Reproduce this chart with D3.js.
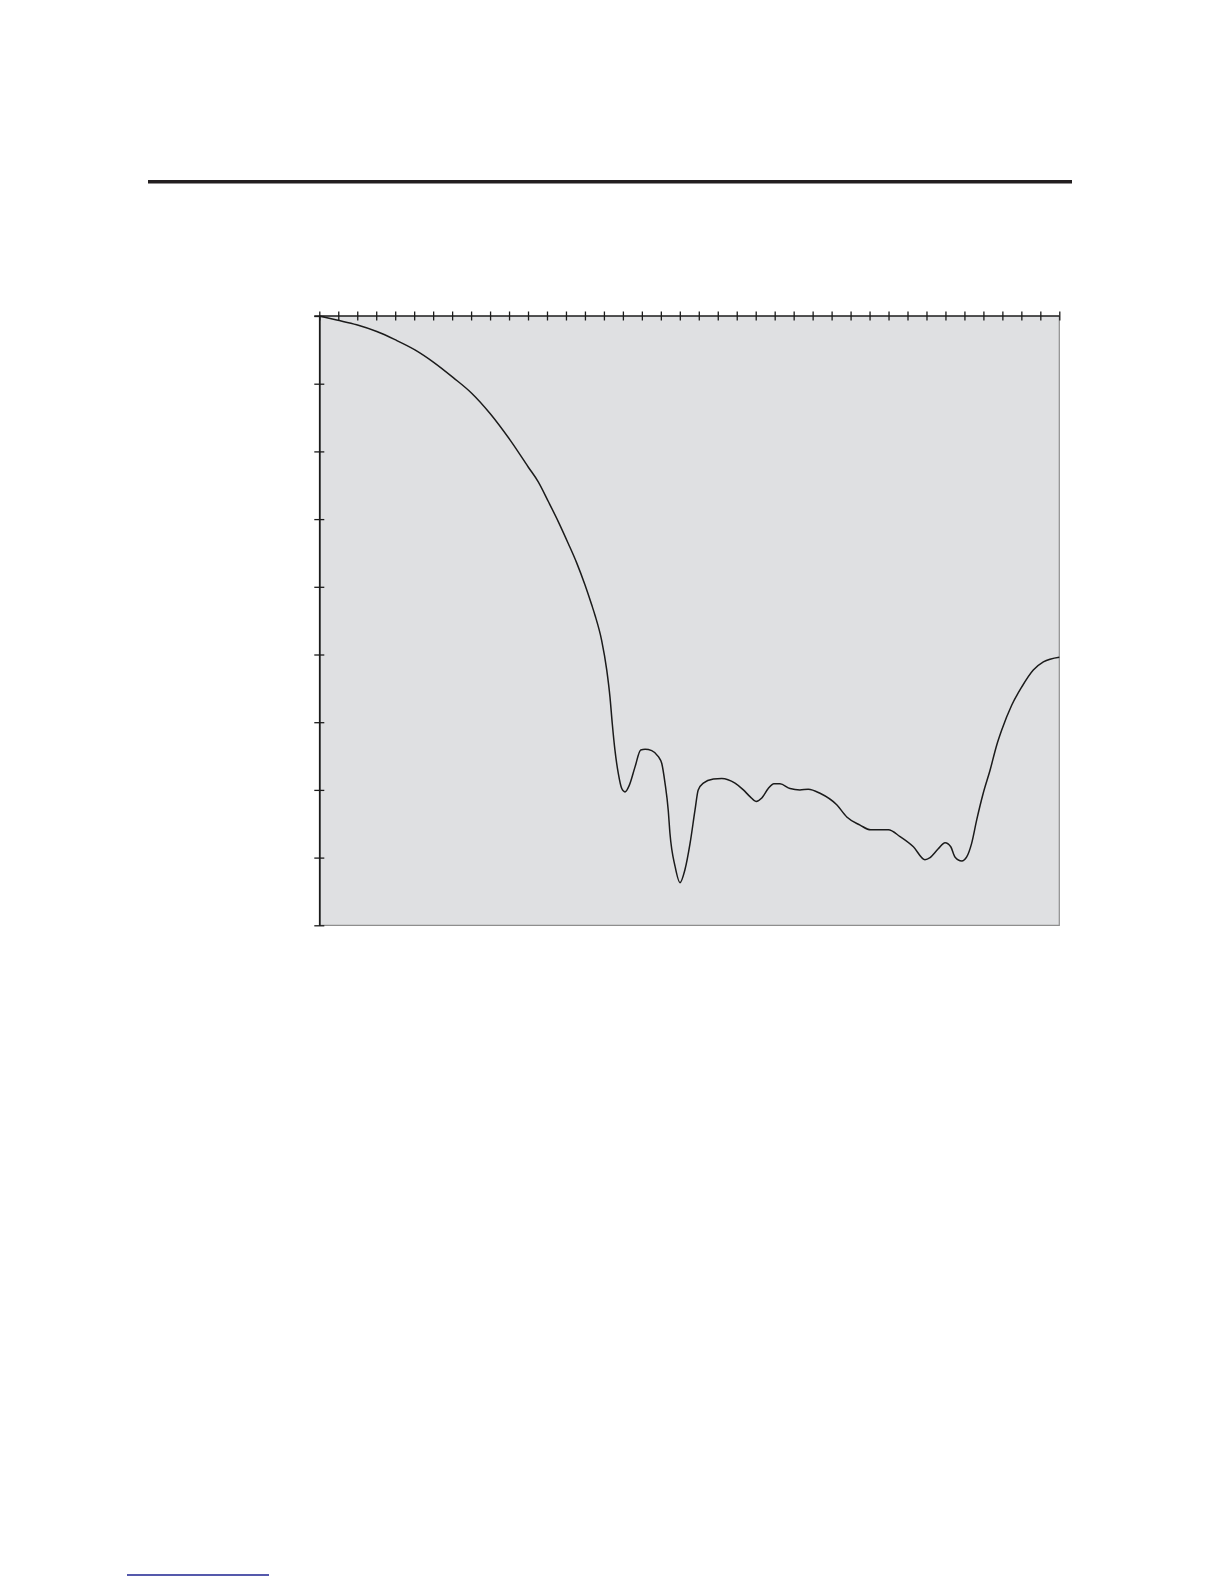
<!DOCTYPE html>
<html>
<head>
<meta charset="utf-8">
<script src="https://cdn.jsdelivr.net/npm/d3@7"></script>
<style>
  body { margin: 0; background: #fff; }
  svg { display: block; }
</style>
</head>
<body>
<div id="chart"></div>
<script>
// page size
var pageWidth = 1224;
var pageHeight = 1584;

// plot box on the page
var plotLeft = 319.3;
var plotRight = 1059.3;
var plotTop = 316;
var plotBottom = 925.3;

// x in tick steps (39 intervals, unlabelled), y in dB (0 top, -90 bottom)
var xTickValues = d3.range(0, 40);
var yTickValues = d3.range(-90, 1, 10);

// response curve
var freq = [0, 0.92, 1.97, 3.03, 3.99, 5.04, 6.01, 7.06, 8.03, 9.0, 10.05, 11.01, 11.54, 12.07, 12.6, 13.12,
  13.57, 14.0, 14.36, 14.53, 14.88, 15.15, 15.32, 15.44, 15.58, 15.76, 15.94, 16.11, 16.34, 16.64, 16.94,
  17.17, 17.52, 17.87, 18.05, 18.22, 18.39, 18.48, 18.75, 19.01, 19.27, 19.54, 19.8, 19.97, 20.24, 20.77,
  21.21, 21.91, 22.35, 22.7, 23.02, 23.32, 23.66, 23.96, 24.28, 24.81, 25.33, 25.77, 26.39, 27.27, 27.8,
  28.5, 29.06, 29.99, 30.61, 31.31, 31.92, 32.19, 32.62, 32.98, 33.28, 33.5, 33.86, 34.12, 34.38, 34.65,
  34.99, 35.35, 35.7, 35.96, 36.49, 37.02, 37.63, 38.16, 39.0];
var level = [0, -0.6, -1.3, -2.3, -3.5, -5.0, -6.8, -9.1, -11.4, -14.4, -18.3, -22.3, -24.5, -27.4, -30.4, -33.6,
  -36.5, -39.7, -42.7, -44.2, -47.9, -52.3, -56.3, -60.2, -64.1, -67.6, -69.8, -70.3, -69.3, -66.6, -64.1,
  -64.0, -64.2, -65.1, -66.1, -69.0, -73.0, -76.4, -81.3, -83.7, -81.8, -77.9, -73.0, -70.0, -69.0, -68.4,
  -68.3, -69.0, -70.0, -71.0, -71.7, -71.2, -69.8, -69.1, -69.1, -69.8, -70.0, -69.9, -70.5, -72.2, -74.0,
  -75.2, -75.9, -75.9, -76.9, -78.4, -80.3, -80.0, -78.7, -77.8, -78.4, -79.9, -80.5, -79.9, -77.9, -74.4,
  -70.5, -67.1, -63.4, -61.2, -57.5, -54.8, -52.3, -51.1, -50.4];

var svg = d3.select("#chart").append("svg").attr("width", pageWidth).attr("height", pageHeight);

// heading rule across the page
svg.append("line").attr("x1", 148).attr("x2", 1072).attr("y1", 181.8).attr("y2", 181.8)
  .attr("stroke", "#231f20").attr("stroke-width", 3.6);

// footnote rule
svg.append("line").attr("x1", 127).attr("x2", 269).attr("y1", 1575).attr("y2", 1575)
  .attr("stroke", "#1d2290").attr("stroke-width", 1.6);

var x = d3.scaleLinear().domain([0, 39]).range([plotLeft, plotRight]);
var y = d3.scaleLinear().domain([-90, 0]).range([plotBottom, plotTop]);

// grey plot area
svg.append("rect")
  .attr("x", plotLeft).attr("y", plotTop)
  .attr("width", plotRight - plotLeft).attr("height", plotBottom - plotTop)
  .attr("fill", "#dfe0e2")
  .attr("stroke", "none");

// right and bottom border (thin grey)
svg.append("path")
  .attr("d", "M" + plotLeft + "," + plotBottom + "H" + plotRight + "V" + plotTop)
  .attr("fill", "none").attr("stroke", "#8e8e8e").attr("stroke-width", 1.2);

// the curve
var line = d3.line()
  .x((d, i) => x(freq[i]))
  .y(d => y(d))
  .curve(d3.curveMonotoneX);

svg.append("path")
  .datum(level)
  .attr("d", line)
  .attr("fill", "none")
  .attr("stroke", "#1b1b1b")
  .attr("stroke-width", 1.5)
  .attr("stroke-linejoin", "round");

// top axis, ticks crossing the line
var topAxis = svg.append("g")
  .attr("transform", "translate(0," + plotTop + ")")
  .call(d3.axisTop(x).tickValues(xTickValues).tickSizeInner(4.5).tickSizeOuter(0).tickFormat(""));
topAxis.select(".domain").attr("stroke", "#1b1b1b").attr("stroke-width", 1.6)
  .attr("d", "M" + (plotLeft - 5) + ",0H" + plotRight);
topAxis.selectAll(".tick line").attr("y1", 4.5).attr("y2", -4.5)
  .attr("stroke", "#1b1b1b").attr("stroke-width", 1.3);

// left axis, ticks crossing the line
var leftAxis = svg.append("g")
  .attr("transform", "translate(" + plotLeft + ",0)")
  .call(d3.axisLeft(y).tickValues(yTickValues).tickSizeInner(5).tickSizeOuter(0).tickFormat(""));
leftAxis.select(".domain").attr("stroke", "#1b1b1b").attr("stroke-width", 1.8);
leftAxis.selectAll(".tick line").attr("x1", 5).attr("x2", -5)
  .attr("stroke", "#1b1b1b").attr("stroke-width", 1.3);
</script>
</body>
</html>
